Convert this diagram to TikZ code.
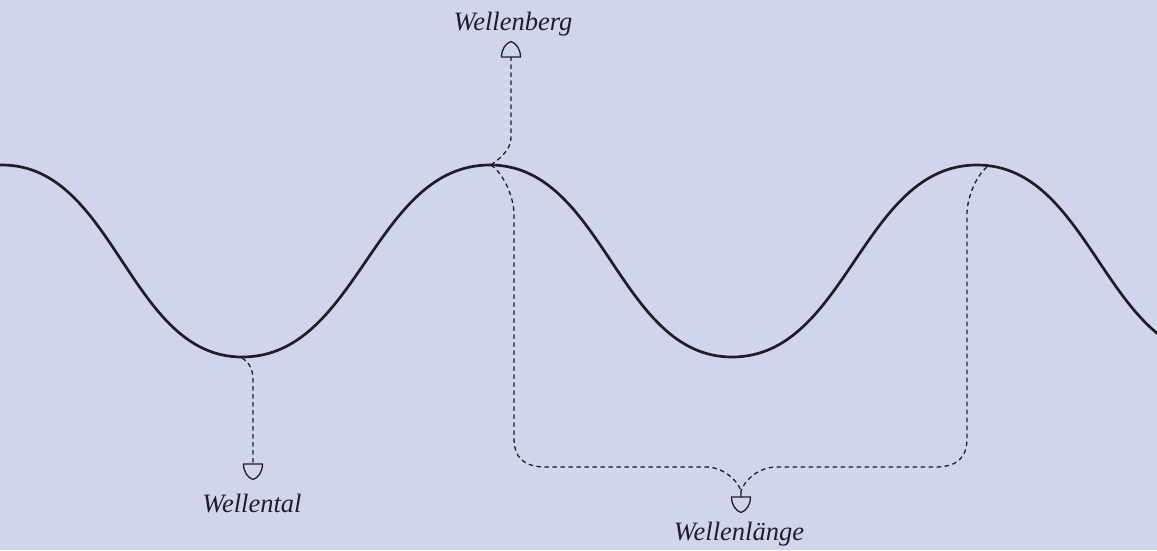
\documentclass[tikz,border=0pt]{standalone}
\usepackage{fontspec}
\setmainfont{Liberation Serif}
\usetikzlibrary{calc}
\definecolor{bg}{HTML}{D0D5EC}
\definecolor{ink}{HTML}{1E1E24}
\begin{document}
\begin{tikzpicture}[x=1pt,y=-1pt,
  wave/.style={draw=ink,line width=2.7pt},
  lead/.style={draw=ink,line width=1.3pt,dash pattern=on 4.5pt off 3.5pt},
  markline/.style={draw=ink,line width=1.3pt,line join=round},
  lbl/.style={anchor=base,text=ink,font=\fontsize{26.5}{31}\selectfont\itshape,inner sep=0pt},
  pics/arch/.style={code={\draw[markline] (-9.5,0) -- (9.5,0) .. controls (9.5,8) and (5,14) .. (0,15.5) .. controls (-5,14) and (-9.5,8) .. (-9.5,0) -- cycle;}}
]
\fill[bg] (0,0) rectangle (1157,550);
\useasboundingbox (0,0) rectangle (1157,550);
\begin{scope}
\clip (0,0) rectangle (1157,550);
\draw[wave] (-240,357) .. controls (-127,357) and (-111,165) .. (2,165)
  .. controls (115,165) and (129,357) .. (242,357)
  .. controls (358.6,357) and (373.4,165) .. (490,165)
  .. controls (603.7,165) and (618.3,357) .. (732,357)
  .. controls (847.2,357) and (861.8,165) .. (977,165)
  .. controls (1091.2,165) and (1105.8,357) .. (1220,357);
\end{scope}
% anchor points
\coordinate (peakA) at (491,165);
\coordinate (troughA) at (242,358);
\coordinate (peakB) at (987,167);
\coordinate (mberg) at (511,57);
\coordinate (mtal) at (253,464);
\coordinate (mlaenge) at (741,497);
\coordinate (join) at (741,491);
\coordinate (lA) at (514,214);
\coordinate (lB) at (514,438);
\coordinate (lC) at (546,467);
\coordinate (lD) at (706,467);
\coordinate (rA) at (967,214);
\coordinate (rB) at (967,438);
\coordinate (rC) at (935,467);
\coordinate (rD) at (776,467);
% labels
\node[lbl] (berg) at (513,30) {Wellenberg};
\node[lbl] (tal) at (252,512) {Wellental};
\node[lbl] (laenge) at (739,540) {Wellenlänge};
% connectors
\draw[lead] (peakA) .. controls +(14,-10) and +(0,10) .. ($(mberg)+(0,80)$) -- (mberg);
\draw[lead] (troughA) .. controls +(8,5) and +(0,-10) .. ($(mtal)+(0,-84)$) -- (mtal);
\draw[lead] (peakA) .. controls +(14,10) and +(0,-15) .. (lA) -- (lB)
  .. controls +(0,20) and +(-22,0) .. (lC) -- (lD)
  .. controls +(16,0) and +(-4,-12) .. (join) -- (mlaenge);
\draw[lead] (peakB) .. controls +(-12,10) and +(0,-15) .. (rA) -- (rB)
  .. controls +(0,20) and +(22,0) .. (rC) -- (rD)
  .. controls +(-16,0) and +(4,-12) .. (join) -- (mlaenge);
% markers
\pic[yscale=-1] at (mberg) {arch};
\pic at (mtal) {arch};
\pic at (mlaenge) {arch};
\end{tikzpicture}
\end{document}
